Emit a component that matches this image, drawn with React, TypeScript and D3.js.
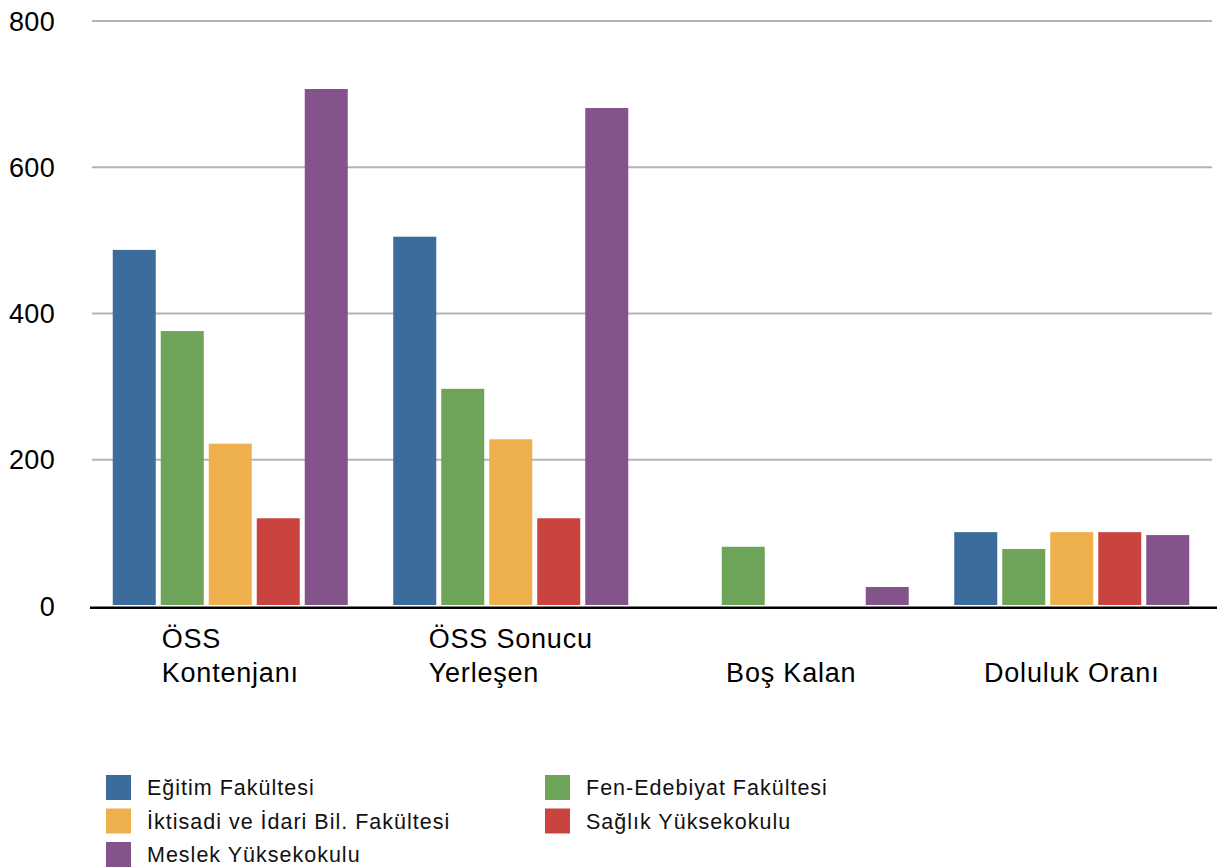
import React, { useEffect, useRef } from "react";
import * as d3 from "d3";

const categories = ["ÖSS\nKontenjanı", "ÖSS Sonucu\nYerleşen", "Boş Kalan", "Doluluk Oranı"];
const seriesNames = [
  "Eğitim Fakültesi",
  "Fen-Edebiyat Fakültesi",
  "İktisadi ve İdari Bil. Fakültesi",
  "Sağlık Yüksekokulu",
  "Meslek Yüksekokulu",
];
const egitim = [487, 505, 0, 101];
const fenEdebiyat = [376, 297, 81, 78];
const iktisadi = [222, 228, 0, 101];
const saglik = [120, 120, 0, 101];
const meslek = [707, 681, 26, 97];
const seriesValues = [egitim, fenEdebiyat, iktisadi, saglik, meslek];
const colors = ["#3b6c9b", "#6ea45a", "#edb04d", "#c9443f", "#84538c"];
const yTicks = [0, 200, 400, 600, 800];
const legendOrder = [0, 1, 2, 3, 4];

const FONT = "'Liberation Sans', Arial, Helvetica, sans-serif";

export default function App() {
  const ref = useRef<SVGSVGElement | null>(null);

  useEffect(() => {
    const svg = d3.select(ref.current);
    svg.selectAll("*").remove();

    const x0 = d3.scaleBand<string>().domain(categories).range([90, 1212]).padding(0);
    const x1 = d3
      .scaleBand<string>()
      .domain(seriesNames)
      .range([0, x0.bandwidth()])
      .paddingInner(5 / 48)
      .paddingOuter(0.474);
    const y = d3.scaleLinear().domain([0, 800]).range([606, 21]);

    // gridlines
    svg
      .append("g")
      .selectAll("line")
      .data(yTicks.filter((t) => t !== 0))
      .join("line")
      .attr("x1", 92)
      .attr("x2", 1212)
      .attr("y1", (d) => y(d))
      .attr("y2", (d) => y(d))
      .attr("stroke", "#b3b3b3")
      .attr("stroke-width", 2);

    // tick labels
    svg
      .append("g")
      .selectAll("text")
      .data(yTicks)
      .join("text")
      .attr("x", 55)
      .attr("y", (d) => y(d))
      .attr("dy", "0.36em")
      .attr("text-anchor", "end")
      .attr("font-family", FONT)
      .attr("font-size", 27)
      .attr("letter-spacing", 0.3)
      .attr("fill", "#000")
      .text((d) => String(d));

    // bars
    const groups = svg
      .append("g")
      .selectAll("g")
      .data(categories)
      .join("g")
      .attr("transform", (c) => `translate(${x0(c)},0)`);

    groups
      .selectAll("rect")
      .data((c) => seriesNames.map((s, si) => ({ s, si, v: seriesValues[si][categories.indexOf(c)] })))
      .join("rect")
      .filter((d) => d.v > 0)
      .attr("x", (d) => x1(d.s) as number)
      .attr("width", x1.bandwidth())
      .attr("y", (d) => y(d.v))
      .attr("height", (d) => y(0) - 1 - y(d.v))
      .attr("fill", (d) => colors[d.si]);

    // axis baseline
    svg
      .append("line")
      .attr("x1", 90)
      .attr("x2", 1217)
      .attr("y1", 607.8)
      .attr("y2", 607.8)
      .attr("stroke", "#000")
      .attr("stroke-width", 2.6);

    // category labels
    categories.forEach((c) => {
      const lines = c.split("\n");
      const cx = (x0(c) as number) + x0.bandwidth() / 2;
      const g = svg.append("g");
      const baseY = lines.length === 1 ? [682] : [648, 682];
      const texts = lines.map((ln, i) =>
        g
          .append("text")
          .attr("y", baseY[i])
          .attr("font-family", FONT)
          .attr("font-size", 27)
          .attr("letter-spacing", 0.8)
          .attr("fill", "#000")
          .text(ln)
      );
      const widths = texts.map((t) => (t.node() as SVGTextElement).getComputedTextLength());
      const maxW = d3.max(widths) || 0;
      texts.forEach((t) => t.attr("x", cx - maxW / 2));
    });

    // legend
    const lg = svg.append("g");
    legendOrder.forEach((si, i) => {
      const col = i % 2;
      const row = Math.floor(i / 2);
      const sx = col === 0 ? 106 : 545;
      const sy = 775 + row * 33.5;
      lg.append("rect")
        .attr("x", sx)
        .attr("y", sy)
        .attr("width", 25)
        .attr("height", 25)
        .attr("fill", colors[si]);
      lg.append("text")
        .attr("x", sx + 41)
        .attr("y", sy + 20)
        .attr("font-family", FONT)
        .attr("font-size", 21.5)
        .attr("letter-spacing", 1)
        .attr("fill", "#111")
        .text(seriesNames[si]);
    });
  }, []);

  return (
    <svg
      ref={ref}
      width={1217}
      height={868}
      style={{ position: "absolute", left: 0, top: 0, background: "#fff" }}
    />
  );
}
